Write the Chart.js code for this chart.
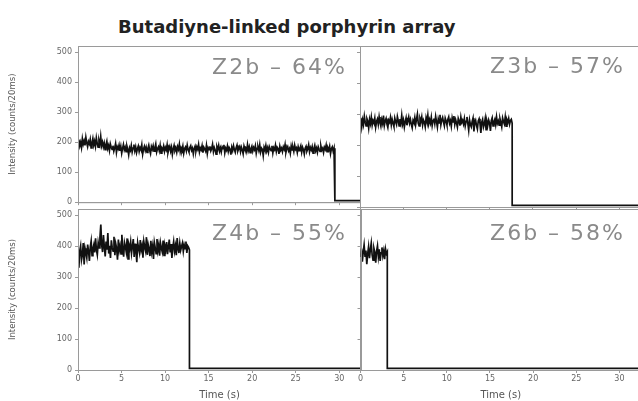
<!DOCTYPE html>
<html lang="en">
<head>
    <meta charset="UTF-8">
    <meta name="viewport" content="width=device-width, initial-scale=1.0">
    <script src="https://cdn.jsdelivr.net/npm/chart.js"></script>
    <title>Butadiyne-linked porphyrin array</title>
    <style>
        body { margin: 0; width: 638px; height: 401px; overflow: hidden; background: #fff; position: relative; }
        #title { position: absolute; left: 118px; top: 16px; font: bold 18px 'DejaVu Sans', sans-serif; color: #222; white-space: nowrap; }
        canvas { position: absolute; }
    </style>
</head>
<body>
    <div id="title">Butadiyne-linked porphyrin array</div>
    <canvas id="z2b" width="361" height="172" style="left:0;top:38px"></canvas>
    <canvas id="z3b" width="284" height="172" style="left:357px;top:38px"></canvas>
    <canvas id="z4b" width="361" height="201" style="left:0;top:200px"></canvas>
    <canvas id="z6b" width="284" height="201" style="left:357px;top:200px"></canvas>
</body>

<script>
    // intensity traces (counts/20ms), evenly spaced from t = 0 until the bleach step
    const z2bValues = [
        195,208,187,199,182,211,193,204,189,216,198,185,202,194,209,181,197,212,190,203,
        186,214,196,183,205,192,219,188,200,184,197,175,191,203,179,189,172,194,183,176,
        188,170,181,195,166,184,177,190,171,186,163,179,192,174,183,168,187,176,158,181,
        173,189,167,180,192,171,184,165,178,187,169,182,175,191,160,177,186,172,183,166,
        179,190,173,162,185,176,188,170,181,194,167,178,184,171,189,163,180,175,187,169,
        182,174,191,165,178,186,170,183,159,177,189,172,180,166,185,176,193,168,181,174,
        187,163,179,184,171,190,175,167,182,188,173,180,161,178,186,170,184,176,192,167,
        180,174,188,165,183,177,170,189,162,181,175,186,171,179,193,168,182,174,160,185,
        176,189,170,181,167,184,178,191,164,180,173,187,169,182,176,158,183,172,188,175,
        166,181,190,171,179,185,168,183,174,161,187,177,180,169,192,173,184,165,178,186,
        170,182,175,188,163,179,184,172,191,167,180,176,155,183,174,189,170,181,166,185,
        177,172,188,164,181,175,190,169,183,178,161,186,173,180,168,184,176,192,166,179,
        185,171,178,163,187,174,182,169,190,176,181,165,184,172,179,188,167,183,175,160,
        180,186,170,177,191,168,182,174,185,163,178,189,171,180,166,184,176,169,187,173,
        179,165,183,176,190,168,181,174,186,162,178,184,170,180,175];
    const z3bValues = [
        270,288,259,281,266,293,274,262,285,277,255,283,269,290,264,279,272,287,258,276,
        284,267,291,273,261,282,270,295,263,278,286,268,257,280,274,289,265,283,271,260,
        287,275,266,292,279,262,284,270,296,268,281,258,275,288,264,279,291,271,283,267,
        256,280,273,289,266,284,300,270,262,286,277,291,265,281,274,259,288,276,297,268,
        282,271,290,263,279,286,269,293,276,258,284,272,298,266,281,289,274,262,287,278,
        265,283,291,270,279,261,288,275,294,267,282,271,258,286,277,263,290,273,280,268,
        285,262,277,291,270,248,281,266,259,276,287,244,272,280,263,252,278,285,269,239,
        274,283,258,268,286,250,277,265,281,271,246,279,288,262,275,283,266,291,270,278,
        264,285,273,259,287,276,268,290,261,282,274,286,267,279,283,270];
    const z4bValues = [
        362,330,385,401,356,372,410,341,393,378,362,405,384,352,398,417,369,391,404,380,
        425,388,372,411,394,428,470,403,381,436,398,367,415,389,442,376,401,362,419,395,
        384,430,371,408,393,356,421,387,402,375,437,390,366,411,398,381,425,359,404,392,
        414,377,399,423,365,408,386,348,411,394,379,420,388,402,363,415,397,384,429,372,
        405,391,368,417,382,400,359,412,395,376,423,386,404,369,410,393,381,418,370,402,
        389,413,374,398,421,380,407,362,395,415,384,401,371,426,392,378,409,387,399,410,
        383,404,392,415,378,401,396,388];
    const z6bValues = [365,392,350,381,404,368,386,342,375,398,361,389,410,372,355,393,
        380,347,384,401,366,390,352,378,396,369,385,358,391,376,382];

    // time (s) of the single-step drop for each array
    const stepTimes = { z2b: 29.5, z3b: 17.6, z4b: 12.8, z6b: 3.1 };
    const panelLabels = { z2b: 'Z2b – 64%', z3b: 'Z3b – 57%', z4b: 'Z4b – 55%', z6b: 'Z6b – 58%' };
    const baseline = 5;
    const timeTicks = [0, 5, 10, 15, 20, 25, 30];
    const intensityTicks = [0, 100, 200, 300, 400, 500];
    const tMax = 32.5, yMax = 520;

    const panelFrame = {
        id: 'panelFrame',
        afterDraw(chart, args, o) {
            const { ctx, chartArea: a } = chart;
            ctx.save();
            ctx.strokeStyle = '#9a9a9a';
            ctx.lineWidth = 1;
            ctx.strokeRect(Math.round(a.left) + 0.5, Math.round(a.top) + 0.5, a.right - a.left, a.bottom - a.top);
            ctx.fillStyle = '#8a8a8a';
            ctx.font = '22px "DejaVu Sans"';
            ctx.letterSpacing = '2px';
            ctx.textAlign = 'right';
            ctx.textBaseline = 'middle';
            ctx.fillText(o.text, o.right, a.top + o.dy);
            ctx.restore();
        }
    };

    function tracePoints(values, tEnd) {
        const pts = values.map((v, i) => ({ x: i * tEnd / (values.length - 1), y: v }));
        pts.push({ x: tEnd, y: baseline }, { x: tMax, y: baseline });
        return pts;
    }

    function makePanel(id, values, showY, showX, labelRight, labelDy) {
        new Chart(document.getElementById(id), {
            type: 'line',
            data: {
                datasets: [{
                    data: tracePoints(values, stepTimes[id]),
                    borderColor: '#111',
                    borderWidth: 1.7,
                    pointRadius: 0,
                    tension: 0
                }]
            },
            plugins: [panelFrame],
            options: {
                responsive: false,
                animation: false,
                layout: { padding: { top: showX ? 9 : 8, right: 0, left: 0, bottom: 0 } },
                plugins: {
                    legend: { display: false },
                    tooltip: { enabled: false },
                    panelFrame: { text: panelLabels[id], right: labelRight, dy: labelDy }
                },
                scales: {
                    x: {
                        type: 'linear',
                        min: 0,
                        max: tMax,
                        afterBuildTicks: s => { s.ticks = timeTicks.map(v => ({ value: v })); },
                        afterFit: s => { s.height = showX ? 31 : 3; },
                        ticks: { display: showX, color: '#666', font: { size: 8, family: 'DejaVu Sans' }, padding: 1, maxRotation: 0 },
                        grid: { drawOnChartArea: false, tickLength: 3, color: '#9a9a9a' },
                        border: { color: '#9a9a9a' },
                        title: { display: showX, text: 'Time (s)', color: '#555', font: { size: 10, family: 'DejaVu Sans' }, padding: { top: 1, bottom: 0 } }
                    },
                    y: {
                        min: 0,
                        max: yMax,
                        afterBuildTicks: s => { s.ticks = intensityTicks.map(v => ({ value: v })); },
                        afterFit: s => { s.width = showY ? 78 : 3; },
                        ticks: { display: showY, color: '#666', font: { size: 8, family: 'DejaVu Sans' }, padding: 3 },
                        grid: { drawOnChartArea: false, tickLength: 3, color: '#9a9a9a' },
                        border: { color: '#9a9a9a' },
                        title: { display: showY, text: 'Intensity (counts/20ms)', color: '#555', font: { size: 8.5, family: 'DejaVu Sans' }, padding: { top: 8, bottom: 0 } }
                    }
                }
            }
        });
    }

    makePanel('z2b', z2bValues, true, false, 347, 22);
    makePanel('z3b', z3bValues, false, false, 268, 21);
    makePanel('z4b', z4bValues, true, true, 347, 25);
    makePanel('z6b', z6bValues, false, true, 268, 25);
</script>
</html>
